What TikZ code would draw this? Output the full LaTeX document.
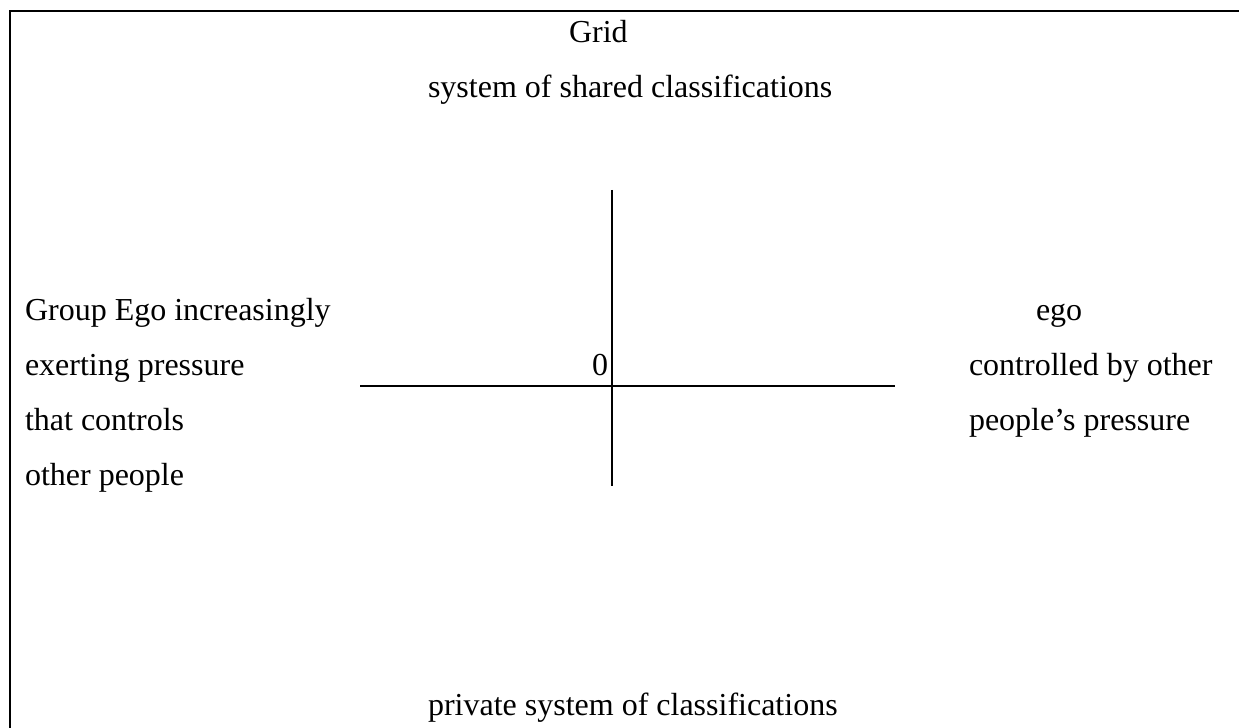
\documentclass[tikz,border=0pt]{standalone}
\usepackage{fontspec}
\setmainfont{Liberation Serif}
\begin{document}
\begin{tikzpicture}[x=1bp,y=-1bp,
  lbl/.style={inner sep=0pt, outer sep=0pt, font=\fontsize{32bp}{38bp}\selectfont},
  lw/.style={anchor=base west},
  rule/.style={line width=2bp, line cap=butt}]
\useasboundingbox (0,0) rectangle (1239,728);
% frame (top and left only)
\coordinate (tl) at (10,11);
\coordinate (tr) at (1239,11);
\coordinate (bl) at (10,728);
\draw[rule] (tr) -- (tl) -- (bl);
% headings
\node[lbl, lw] (grid) at (569,43) {Grid};
\node[lbl, lw] (shared) at (428,98) {system of shared classifications};
\node[lbl, lw] (private) at (428,715) {private system of classifications};
% axes
\coordinate (vt) at (612,190);
\coordinate (vb) at (612,486);
\coordinate (hl) at (360,386);
\coordinate (hr) at (895,386);
\draw[rule] (vt) -- (vb);
\draw[rule] (hl) -- (hr);
\node[lbl, anchor=base east] (zero) at (608,375) {0};
% left text
\node[lbl, lw] (l1) at (25,320) {Group Ego increasingly};
\node[lbl, lw] (l2) at (25,375) {exerting pressure};
\node[lbl, lw] (l3) at (25,430) {that controls};
\node[lbl, lw] (l4) at (25,485) {other people};
% right text
\node[lbl, lw] (r1) at (1036,320) {ego};
\node[lbl, lw] (r2) at (969,375) {controlled by other};
\node[lbl, lw] (r3) at (969,430) {people’s pressure};
\end{tikzpicture}
\end{document}
